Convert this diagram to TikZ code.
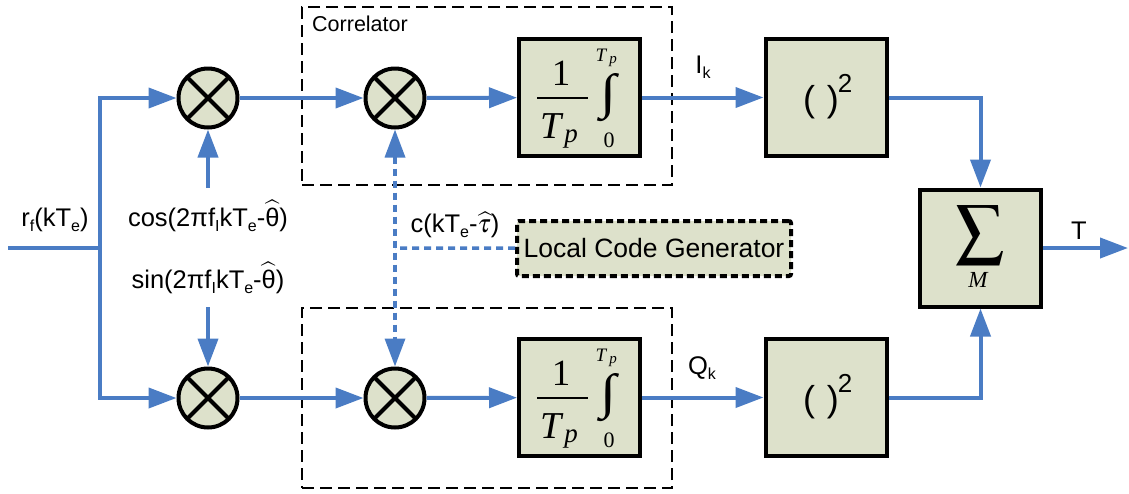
\documentclass[tikz,border=0pt]{standalone}
\usepackage{graphicx}
\usepackage{mathptmx}
\usepackage{fontspec}
\setmainfont{Liberation Sans}
\newfontfamily\serif{Liberation Serif}
\usetikzlibrary{arrows.meta}
\definecolor{sigblue}{RGB}{74,124,196}
\definecolor{boxfill}{RGB}{221,225,203}
\newcommand\sbs[1]{\raisebox{-0.35ex}{\fontsize{16}{16}\selectfont #1}}
\begin{document}
\begin{tikzpicture}[x=1pt,y=-1pt,
  sig/.style={draw=sigblue,line width=4pt},
  tip/.style={-{Triangle[length=28pt,width=20pt]}},
  dots/.style={draw=sigblue,line width=3.5pt,dash pattern=on 7pt off 5pt},
  blk/.style={draw,line width=4pt,fill=boxfill,minimum width=121pt,minimum height=117pt,inner sep=0pt},
  mix/.style={circle,draw,line width=4pt,fill=boxfill,minimum size=59pt,inner sep=0pt,
    path picture={\draw[line width=4pt] (path picture bounding box.south west)--(path picture bounding box.north east)
      (path picture bounding box.north west)--(path picture bounding box.south east);}},
  corrbox/.style={draw,line width=2pt,dash pattern=on 12pt off 6pt,inner sep=0pt},
  lcgbox/.style={draw,line width=4pt,dash pattern=on 7pt off 4pt,fill=boxfill,rounded corners=2pt,
    minimum width=274pt,minimum height=55pt,inner sep=0pt,font=\fontsize{26.5}{30}\selectfont},
  lbl/.style={inner sep=0pt,font=\fontsize{25.5}{30}\selectfont}
]
\useasboundingbox (0,0) rectangle (1129,493);
% correlator frames
\node[corrbox,minimum width=370pt,minimum height=178pt] (cb1) at (487,96) {};
\node[corrbox,minimum width=370pt,minimum height=180pt] (cb2) at (487,398) {};
\node[lbl,font=\fontsize{21.5}{24}\selectfont,anchor=west] (corr) at (312,24) {Correlator};
% blocks
\node[mix] (m1) at (208,98) {};
\node[mix] (m2) at (208,398) {};
\node[mix] (c1) at (395,98) {};
\node[mix] (c2) at (395,398) {};
\node[blk] (i1) at (579.5,97.5) {};
\node[blk] (i2) at (579.5,397.5) {};
\node[blk] (s1) at (826,97.5) {};
\node[blk] (s2) at (826,397.5) {};
\node[blk] (sum) at (980.5,248) {};
\node[lcgbox] (lcg) at (654,248.5) {Local Code Generator};
% integrator contents
\foreach \n/\y in {ia/0,ib/300}{
  \node[inner sep=0pt,font=\serif\fontsize{37}{37}\selectfont] (\n one) at (561,73+\y) {1};
  \draw[line width=1.5pt] (537,98+\y) -- (588,98+\y);
  \node[inner sep=0pt,font=\serif\itshape\fontsize{38}{38}\selectfont] (\n T) at (551,126+\y) {T};
  \node[inner sep=0pt,font=\serif\itshape\fontsize{27}{27}\selectfont] (\n p) at (571,139+\y) {p};
  \node[inner sep=0pt] (\n int) at (608,98+\y) {\resizebox{16pt}{35pt}{\serif ∫}};
  \node[inner sep=0pt,font=\serif\itshape\fontsize{19}{19}\selectfont] (\n uT) at (601,55+\y) {T};
  \node[inner sep=0pt,font=\serif\itshape\fontsize{15}{15}\selectfont] (\n up) at (613,62+\y) {p};
  \node[inner sep=0pt,font=\serif\fontsize{22}{22}\selectfont] (\n z) at (609,140+\y) {0};
}
% squarer contents
\foreach \n/\y in {qa/0,qb/300}{
  \node[inner sep=0pt,font=\fontsize{36}{36}\selectfont] (\n p) at (821,102+\y) {(\,\,)};
  \node[inner sep=0pt,font=\fontsize{26}{26}\selectfont] (\n s) at (845,83+\y) {2};
}
% sum contents
\node[inner sep=0pt] (sig) at (980,235) {\fontsize{48}{48}\selectfont$\displaystyle\sum$};
\node[inner sep=0pt,font=\serif\itshape\fontsize{23}{23}\selectfont] (M) at (978,280) {M};
% labels
\node[lbl] (rl) at (55,220) {r\sbs{f}(kT\sbs{e})};
\node[lbl] (cosl) at (208,216) {cos(2πf\sbs{I}kT\sbs{e}-$\widehat{\mbox{θ}}$)};
\node[lbl] (sinl) at (208,278) {sin(2πf\sbs{I}kT\sbs{e}-$\widehat{\mbox{θ}}$)};
\node[lbl] (cl) at (455,225) {c(kT\sbs{e}-$\widehat{\tau}$)};
\node[lbl] (Ik) at (703,67) {I\sbs{k}};
\node[lbl] (Qk) at (702,368) {Q\sbs{k}};
\node[lbl] (Tl) at (1079,231) {T};
% coordinates
\coordinate (in) at (8,248);
\coordinate (br) at (100,248);
\coordinate (cosa) at (208,188);
\coordinate (sina) at (208,307);
\coordinate (tee) at (395,248);
\coordinate (out) at (1128,248);
% connectors
\draw[sig] (in) -- (br);
\draw[sig,tip] (br) |- (m1);
\draw[sig,tip] (br) |- (m2);
\draw[sig,tip] (cosa) -- (m1);
\draw[sig,tip] (sina) -- (m2);
\draw[sig,tip] (m1) -- (c1);
\draw[sig,tip] (m2) -- (c2);
\draw[sig,tip] (c1) -- (i1);
\draw[sig,tip] (c2) -- (i2);
\draw[sig,tip] (i1) -- (s1);
\draw[sig,tip] (i2) -- (s2);
\draw[sig,tip] (s1.east) -| (sum.north);
\draw[sig,tip] (s2.east) -| (sum.south);
\draw[sig,tip] (sum) -- (out);
\draw[dots,{Triangle[length=28pt,width=20pt]}-{Triangle[length=28pt,width=20pt]}] (c1) -- (c2);
\draw[dots] (lcg) -- (tee);
\end{tikzpicture}
\end{document}
